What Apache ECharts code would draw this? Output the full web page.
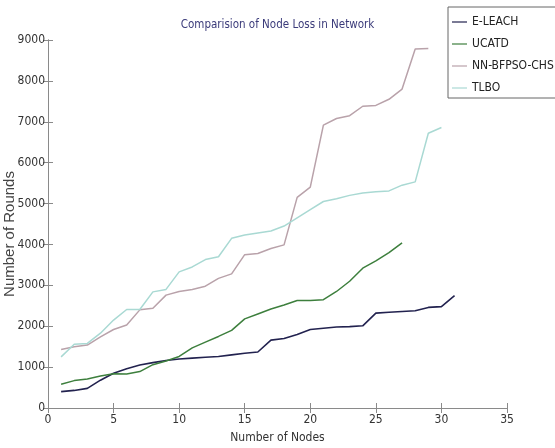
<!DOCTYPE html>
<html>
<head>
<meta charset="utf-8">
<script src="https://cdn.jsdelivr.net/npm/echarts@6/dist/echarts.min.js"></script>
<style>
html,body{margin:0;padding:0;background:#fff;}
#c{width:555px;height:448px;}
</style>
</head>
<body>
<div id="c"></div>
<script>
var nodes = [1,2,3,4,5,6,7,8,9,10,11,12,13,14,15,16,17,18,19,20,21,22,23,24,25,26,27,28,29,30,31];
var eleach = [400,430,480,680,850,960,1050,1110,1160,1200,1220,1240,1260,1300,1340,1370,1660,1700,1800,1920,1950,1980,1990,2010,2320,2340,2360,2380,2460,2480,2750];
var ucatd = [580,670,710,780,840,830,890,1060,1150,1260,1470,1610,1750,1900,2180,2300,2420,2520,2630,2630,2650,2850,3100,3420,3600,3800,4040];
var nnbfpso = [1430,1500,1540,1740,1920,2030,2400,2440,2760,2850,2900,2980,3170,3280,3750,3780,3900,3990,5150,5400,6920,7080,7150,7380,7400,7550,7800,8780,8790];
var tlbo = [1250,1560,1580,1830,2150,2410,2410,2840,2900,3330,3450,3630,3700,4150,4230,4280,4330,4450,4650,4850,5050,5120,5200,5260,5290,5310,5450,5530,6720,6860];
var seriesNames = ['E-LEACH','UCATD','NN-BFPSO-CHS','TLBO'];
var xTicks = {min:0, max:35, interval:5};
var yTicks = {min:0, max:9000, interval:1000};

function pairs(vals){ return vals.map(function(v,i){ return [nodes[i], v]; }); }

var narrow = '"DejaVu Sans Condensed","Liberation Sans Narrow","Liberation Sans",sans-serif';
var axisCol = '#8a8a8a';
var lineIcon = 'path://M0,0H20V1.6H0Z';
var chart = echarts.init(document.getElementById('c'));
var tickStyle = {show:true, inside:true, length:5, lineStyle:{color:axisCol}};
chart.setOption({
  animation:false,
  backgroundColor:'#fff',
  title:{text:'Comparision of Node Loss in Network', left:'center', top:14,
    textStyle:{fontFamily:narrow, fontSize:11.5, fontWeight:'normal', color:'#3b3b7a'}},
  legend:{orient:'vertical', left:448, top:7, data:seriesNames.map(function(n){return {name:n, icon:lineIcon};}),
    borderColor:'#666', borderWidth:1, padding:[8,30,3,4],
    itemWidth:15, itemHeight:14, itemGap:8, itemTextGap:2,
    textStyle:{fontFamily:narrow, fontSize:12, color:'#222', lineHeight:14}},
  grid:{left:48, right:48, top:40, bottom:40, containLabel:false, outerBoundsMode:'none'},
  xAxis:[
    {type:'value', position:'bottom', min:xTicks.min, max:xTicks.max, interval:xTicks.interval,
     name:'Number of Nodes', nameLocation:'middle', nameGap:24, nameMoveOverlap:false,
     nameTextStyle:{fontFamily:narrow, fontSize:12, color:'#333'},
     axisLine:{show:true, lineStyle:{color:axisCol}}, axisTick:tickStyle,
     axisLabel:{fontFamily:narrow, fontSize:12, color:'#333', margin:6},
     splitLine:{show:false}},
    {type:'value', position:'top', min:xTicks.min, max:xTicks.max, interval:xTicks.interval,
     axisLine:{show:true, lineStyle:{color:axisCol}}, axisTick:tickStyle,
     axisLabel:{show:false}, splitLine:{show:false}}
  ],
  yAxis:[
    {type:'value', position:'left', min:yTicks.min, max:yTicks.max, interval:yTicks.interval,
     name:'Number of Rounds', nameLocation:'middle', nameGap:31, nameMoveOverlap:false,
     nameTextStyle:{fontFamily:'"Liberation Sans",Arial,sans-serif', fontSize:15, color:'#444', padding:[0,20,0,0]},
     axisLine:{show:true, lineStyle:{color:axisCol}}, axisTick:tickStyle,
     axisLabel:{fontFamily:narrow, fontSize:12, color:'#333', margin:3, formatter:function(v){return String(v);}},
     splitLine:{show:false}},
    {type:'value', position:'right', min:yTicks.min, max:yTicks.max, interval:yTicks.interval,
     axisLine:{show:true, lineStyle:{color:axisCol}}, axisTick:tickStyle,
     axisLabel:{show:false}, splitLine:{show:false}}
  ],
  series:[
    {name:seriesNames[0], type:'line', data:pairs(eleach), symbol:'none', color:'#22224f', lineStyle:{width:1.6}},
    {name:seriesNames[1], type:'line', data:pairs(ucatd), symbol:'none', color:'#3d7f3d', lineStyle:{width:1.5}},
    {name:seriesNames[2], type:'line', data:pairs(nnbfpso), symbol:'none', color:'#b9a2aa', lineStyle:{width:1.5}},
    {name:seriesNames[3], type:'line', data:pairs(tlbo), symbol:'none', color:'#a9d9d3', lineStyle:{width:1.5}}
  ]
});
</script>
</body>
</html>
